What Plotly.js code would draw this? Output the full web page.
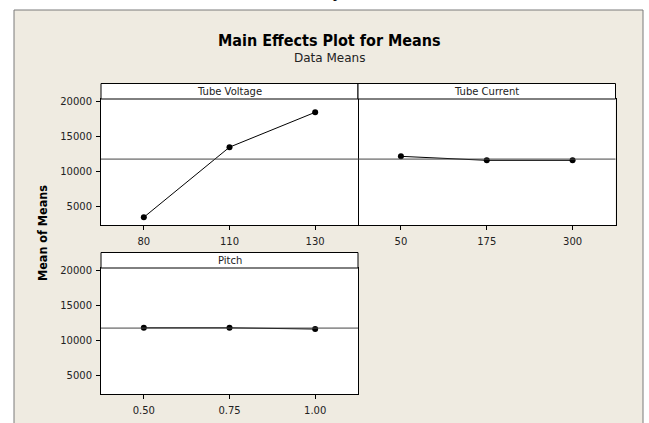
<!DOCTYPE html>
<html>
<head>
<meta charset="utf-8">
<script src="https://cdn.plot.ly/plotly-3.0.1.min.js"></script>
<style>html,body{margin:0;padding:0;background:#fff;}#chart{width:649px;height:423px;}</style>
</head>
<body>
<div id="chart"></div>
<script>
// ---- data ----
const voltageLevels = ["80", "110", "130"];
const voltageMeans = [3500, 13450, 18400];
const currentLevels = ["50", "175", "300"];
const currentMeans = [12150, 11580, 11580];
const pitchLevels = ["0.50", "0.75", "1.00"];
const pitchMeans = [11800, 11800, 11620];
const grandMean = 11760;
const panelTitles = ["Tube Voltage", "Tube Current", "Pitch"];
const yTicks = [5000, 10000, 15000, 20000];

// ---- layout helpers ----
const W = 649, H = 423;
const px = v => v / W;
const py = v => 1 - v / H;
const tickFont = {family: "DejaVu Sans", size: 10, color: "#222"};
const yRange = [2400, 20290];

function trace(x, y, xa, ya) {
  return {
    x: x, y: y, xaxis: xa, yaxis: ya, type: "scatter", mode: "lines+markers",
    line: {color: "#000", width: 1},
    marker: {color: "#000", size: 6},
    hoverinfo: "skip", showlegend: false
  };
}

function xAxis(domain, cats, anchor) {
  return {
    domain: domain, anchor: anchor, type: "category", categoryarray: cats,
    range: [-0.5, 2.5], showgrid: false, zeroline: false,
    showline: true, mirror: true, linecolor: "#000", linewidth: 1,
    ticks: "outside", ticklen: 4, tickcolor: "#000", tickfont: tickFont,
    ticklabelstandoff: 3, fixedrange: true
  };
}
function yAxis(domain, anchor, labels) {
  const a = {
    domain: domain, anchor: anchor, range: yRange, showgrid: false, zeroline: false,
    showline: true, mirror: labels, linecolor: "#000", linewidth: 1,
    tickvals: yTicks, ticktext: yTicks.map(String),
    ticks: labels ? "outside" : "", ticklen: 4, tickcolor: "#000",
    showticklabels: labels, tickfont: tickFont, ticklabelstandoff: 2, fixedrange: true
  };
  if (!labels) a.side = "right";
  return a;
}

const data = [
  trace(voltageLevels, voltageMeans, "x", "y"),
  trace(currentLevels, currentMeans, "x2", "y2"),
  trace(pitchLevels, pitchMeans, "x3", "y3")
];

const topY = [py(225), py(99)];
const botY = [py(394), py(268)];

function whiteRect(x0, x1, y0, y1) {
  return {type: "rect", xref: "paper", yref: "paper", x0: px(x0), x1: px(x1), y0: py(y1), y1: py(y0),
          fillcolor: "#fff", line: {width: 0}, layer: "below"};
}

const shapes = [
  // beige frame
  {type: "rect", xref: "paper", yref: "paper", x0: px(14), x1: px(643), y0: -0.05, y1: py(10),
   fillcolor: "#EFEBE1", line: {color: "#7a7a7a", width: 1}, layer: "below"},
  // white plot areas
  whiteRect(101, 615.5, 99, 225),
  whiteRect(101, 358, 268, 394),
  // strips
  {type: "rect", xref: "paper", yref: "paper", x0: px(101), x1: px(358), y0: py(99), y1: py(83.5),
   fillcolor: "#fff", line: {color: "#000", width: 1}},
  {type: "rect", xref: "paper", yref: "paper", x0: px(358), x1: px(615.5), y0: py(99), y1: py(83.5),
   fillcolor: "#fff", line: {color: "#000", width: 1}},
  {type: "rect", xref: "paper", yref: "paper", x0: px(101), x1: px(358), y0: py(268), y1: py(252.5),
   fillcolor: "#fff", line: {color: "#000", width: 1}},
  // grand mean reference lines
  {type: "line", xref: "x domain", yref: "y", x0: 0, x1: 1, y0: grandMean, y1: grandMean, line: {color: "#444", width: 1}},
  {type: "line", xref: "x2 domain", yref: "y2", x0: 0, x1: 1, y0: grandMean, y1: grandMean, line: {color: "#444", width: 1}},
  {type: "line", xref: "x3 domain", yref: "y3", x0: 0, x1: 1, y0: grandMean, y1: grandMean, line: {color: "#444", width: 1}}
];

const stripFont = {family: "DejaVu Sans", size: 10, color: "#222"};
const annotations = [
  {text: "Main Effects Plot for Means", xref: "paper", yref: "paper", x: px(329), y: py(40),
   xanchor: "center", yanchor: "middle", showarrow: false,
   font: {family: "DejaVu Sans Condensed", size: 16, color: "#000", weight: "bold"}},
  {text: "Data Means", xref: "paper", yref: "paper", x: px(329), y: py(58),
   xanchor: "center", yanchor: "middle", showarrow: false,
   font: {family: "DejaVu Sans", size: 12, color: "#222"}},
  {text: "Mean of Means", xref: "paper", yref: "paper", x: px(42), y: py(233),
   xanchor: "center", yanchor: "middle", textangle: -90, showarrow: false,
   font: {family: "DejaVu Sans Condensed", size: 12.5, color: "#000", weight: "bold"}},
  {text: panelTitles[0], xref: "paper", yref: "paper", x: px(229.5), y: py(91.3),
   xanchor: "center", yanchor: "middle", showarrow: false, font: stripFont},
  {text: panelTitles[1], xref: "paper", yref: "paper", x: px(486.8), y: py(91.3),
   xanchor: "center", yanchor: "middle", showarrow: false, font: stripFont},
  {text: panelTitles[2], xref: "paper", yref: "paper", x: px(229.5), y: py(260.3),
   xanchor: "center", yanchor: "middle", showarrow: false, font: stripFont},
  {text: "p", xref: "paper", yref: "paper", x: px(337), y: py(-8),
   xanchor: "center", yanchor: "middle", showarrow: false,
   font: {family: "Liberation Serif", size: 16, color: "#000"}}
];

const layout = {
  width: W, height: H,
  margin: {l: 0, r: 0, t: 0, b: 0, pad: 0},
  paper_bgcolor: "#fff", plot_bgcolor: "#fff",
  showlegend: false,
  xaxis: xAxis([px(101), px(358)], voltageLevels, "y"),
  yaxis: yAxis(topY, "x", true),
  xaxis2: xAxis([px(358), px(615.5)], currentLevels, "y2"),
  yaxis2: yAxis(topY, "x2", false),
  xaxis3: xAxis([px(101), px(358)], pitchLevels, "y3"),
  yaxis3: yAxis(botY, "x3", true),
  shapes: shapes,
  annotations: annotations
};

Plotly.newPlot("chart", data, layout, {staticPlot: true, displayModeBar: false});
</script>
</body>
</html>
